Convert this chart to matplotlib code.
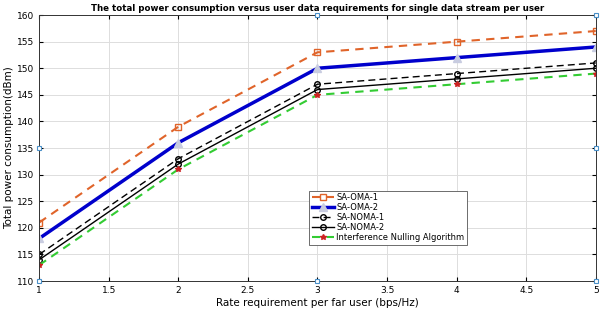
import matplotlib.pyplot as plt
import numpy as np

rate = [1, 2, 3, 4, 5]
sa_oma_1 = [121, 139, 153, 155, 157]
sa_oma_2 = [118, 136, 150, 152, 154]
sa_noma_1 = [115, 133, 147, 149, 151]
sa_noma_2 = [114, 132, 146, 148, 150]
nulling = [113, 131, 145, 147, 149]

# small datatip squares left on the axes edges in the original
tip_x = [1, 1, 3, 3, 5, 5, 5]
tip_y = [110, 135, 110, 160, 160, 135, 110]

fig = plt.figure(figsize=(6.03, 3.14), dpi=100)
ax = fig.add_axes([0.065, 0.105, 0.923, 0.847])

ax.plot(rate, sa_oma_1, '--s', color='#E0642A', lw=1.5, ms=4, mfc='none', dashes=(4, 3), label='SA-OMA-1')
ax.plot(rate, sa_oma_2, '-^', color='#0000CC', lw=2.5, ms=6, mfc='#C8CCE0', mec='#C8CCE0', label='SA-OMA-2')
ax.plot(rate, sa_noma_1, '--o', color='black', lw=1, ms=4, mfc='none', dashes=(5, 3), label='SA-NOMA-1')
ax.plot(rate, sa_noma_2, '-o', color='black', lw=1, ms=4, mfc='none', label='SA-NOMA-2')
ax.plot(rate, nulling, '--', color='#33CC33', lw=1.5, marker='*', ms=4, mfc='#CC2222', mec='#CC2222',
        dashes=(4, 3), label='Interference Nulling Algorithm')
ax.plot(tip_x, tip_y, 's', color='#4A90C8', ms=3.5, mfc='white', mew=0.8, clip_on=False, zorder=5)

ax.set_xlim(1, 5)
ax.set_ylim(110, 160)
ax.set_xticks(np.arange(1, 5.01, 0.5))
ax.set_xticklabels(['1', '1.5', '2', '2.5', '3', '3.5', '4', '4.5', '5'])
ax.set_yticks(np.arange(110, 161, 5))
ax.tick_params(direction='in', labelsize=6.5, length=3, top=True, right=True)
ax.grid(True, color='#DDDDDD', lw=0.7)
for s in ax.spines.values():
    s.set_color('#333333')
    s.set_linewidth(0.7)

ax.set_title('The total power consumption versus user data requirements for single data stream per user',
             fontsize=6.2, fontweight='bold', pad=3)
ax.set_xlabel('Rate requirement per far user (bps/Hz)', fontsize=7.5, labelpad=2)
ax.set_ylabel('Total power consumption(dBm)', fontsize=7.5, labelpad=2)

leg = ax.legend(loc='upper left', bbox_to_anchor=(0.478, 0.355), fontsize=6, handlelength=2.6,
                fancybox=False, framealpha=1, edgecolor='#555555', borderpad=0.3, labelspacing=0.12,
                handletextpad=0.3)
leg.get_frame().set_linewidth(0.6)

fig.savefig('out.png', dpi=100)
